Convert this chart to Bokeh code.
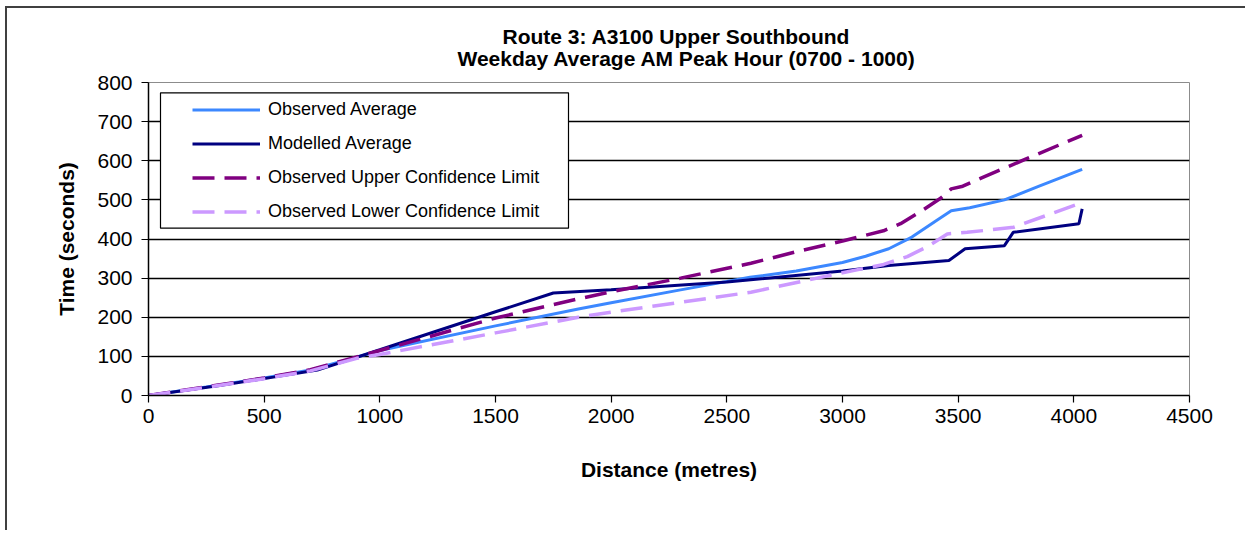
from bokeh.plotting import figure
from bokeh.models import Range1d, FixedTicker, Legend, LegendItem, BoxAnnotation, Title
from bokeh.embed import file_html
from bokeh.resources import INLINE

# ---------------- data ----------------
title_lines = ["Route 3: A3100 Upper Southbound", "Weekday Average AM Peak Hour (0700 - 1000)"]
x_label = "Distance (metres)"
y_label = "Time (seconds)"
x_ticks = [0, 500, 1000, 1500, 2000, 2500, 3000, 3500, 4000, 4500]
y_ticks = [0, 100, 200, 300, 400, 500, 600, 700, 800]

series_names = ["Observed Average", "Modelled Average",
                "Observed Upper Confidence Limit", "Observed Lower Confidence Limit"]

obs_x = [0, 250, 500, 700, 900, 1000, 1500, 1858, 2000, 2300, 2600, 2800, 3000, 3100,
         3200, 3300, 3400, 3470, 3550, 3700, 3850, 4036]
obs_y = [0, 22, 45, 65, 98, 115, 178, 221, 237, 270, 302, 318, 340, 356,
         375, 405, 445, 472, 480, 500, 535, 578]

mod_x = [0, 300, 540, 730, 1000, 1500, 1750, 2000, 2500, 3000, 3200, 3460, 3530,
         3700, 3738, 4022, 4036]
mod_y = [0, 25, 47, 65, 117, 214, 262, 270, 290, 318, 332, 345, 375,
         383, 417, 439, 477]

upp_x = [0, 250, 500, 700, 1000, 1500, 1858, 2000, 2300, 2604, 2818, 3000, 3177, 3251,
         3350, 3424, 3470, 3520, 3604, 3827, 4036]
upp_y = [0, 22, 45, 66, 115, 198, 247, 265, 300, 338, 370, 395, 421, 439,
         475, 504, 528, 535, 557, 613, 665]

low_x = [0, 250, 500, 700, 900, 1000, 1500, 1858, 2000, 2604, 2962, 3178, 3280, 3366,
         3453, 3539, 3740, 4021]
low_y = [0, 21, 43, 63, 95, 105, 160, 200, 213, 264, 309, 335, 355, 380,
         413, 417, 430, 490]

colors = ["#3c88ff", "#000080", "#800080", "#cc99ff"]

FONT = "Liberation Sans"

# ---------------- figure ----------------
p = figure(width=1240, height=524, output_backend="svg", toolbar_location=None,
           x_range=Range1d(0, 4500), y_range=Range1d(0, 800),
           min_border_left=141, min_border_right=58, min_border_top=74,
           min_border_bottom=137, title=None)
p.styles = {"border-left": "2px solid #404040", "border-top": "2px solid #404040",
            "margin-left": "5px", "margin-top": "6px"}
p.background_fill_color = "white"
p.border_fill_color = "white"
p.outline_line_color = "#8c8c8c"
p.outline_line_width = 1

# two title lines (first added = closest to the plot)
t2 = Title(text=title_lines[1], align="left", text_font=FONT,
           text_font_size="21px", text_font_style="bold", text_color="black",
           standoff=25, offset=309)
t1 = Title(text=title_lines[0], align="left", text_font=FONT,
           text_font_size="21px", text_font_style="bold", text_color="black",
           standoff=0, offset=354)
try:
    t1.standoff = -30
except Exception:
    t1.standoff = 0
p.add_layout(t2, "above")
p.add_layout(t1, "above")

# axes
for ax in (p.xaxis[0], p.yaxis[0]):
    ax.axis_line_color = "black"
    ax.axis_line_width = 1.5
    ax.major_tick_line_color = "black"
    ax.major_tick_line_width = 1.2
    ax.major_tick_in = 0
    ax.minor_tick_line_color = None
    ax.major_label_text_font = FONT
    ax.major_label_text_font_size = "21px"
    ax.major_label_text_color = "black"
    ax.axis_label_text_font = FONT
    ax.axis_label_text_font_size = "21px"
    ax.axis_label_text_font_style = "bold"
    ax.axis_label_text_color = "black"

p.xaxis.ticker = FixedTicker(ticks=x_ticks)
p.yaxis.ticker = FixedTicker(ticks=y_ticks)
p.xaxis.major_tick_out = 7
p.yaxis.major_tick_out = 7
p.xaxis.major_label_standoff = 6
p.yaxis.major_label_standoff = 9
p.xaxis.axis_label = x_label
p.yaxis.axis_label = y_label
p.xaxis.axis_label_standoff = 32
p.yaxis.axis_label_standoff = 16

p.xgrid.visible = False
p.ygrid.ticker = FixedTicker(ticks=y_ticks[1:-1])
p.ygrid.grid_line_color = "black"
p.ygrid.grid_line_width = 1.3

# lines (Excel series order: later ones on top)
r_obs = p.line(obs_x, obs_y, line_color=colors[0], line_width=3)
r_mod = p.line(mod_x, mod_y, line_color=colors[1], line_width=3)
r_upp = p.line(upp_x, upp_y, line_color=colors[2], line_width=3.5, line_dash="22 10")
r_low = p.line(low_x, low_y, line_color=colors[3], line_width=3.5, line_dash="22 10")

# legend box
box = BoxAnnotation(left=12, right=420, top=302.7, bottom=167.3,
                    left_units="screen", right_units="screen",
                    top_units="screen", bottom_units="screen",
                    fill_color="white", fill_alpha=1.0,
                    line_color="black", line_width=1.2, line_alpha=1.0)
p.add_layout(box)

legend = Legend(items=[LegendItem(label=n, renderers=[r]) for n, r in
                       zip(series_names, [r_obs, r_mod, r_upp, r_low])],
                location=(44, 168.5), orientation="vertical",
                glyph_width=68, glyph_height=31, spacing=3, label_standoff=8,
                padding=0, margin=0, border_line_color=None,
                background_fill_alpha=0.0,
                label_text_font=FONT, label_text_font_size="18px",
                label_text_color="black")
p.add_layout(legend, "center")

open("out.html", "w").write(file_html(p, INLINE))
